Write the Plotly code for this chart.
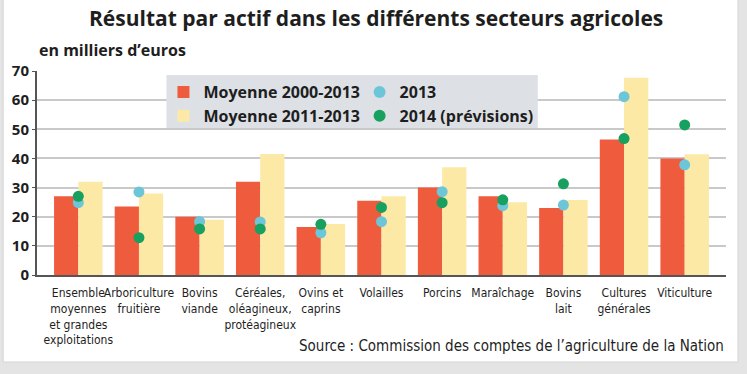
import plotly.graph_objects as go

categories = [
    "Ensemble<br>moyennes<br>et grandes<br>exploitations",
    "Arboriculture<br>fruitière",
    "Bovins<br>viande",
    "Céréales,<br>oléagineux,<br>protéagineux",
    "Ovins et<br>caprins",
    "Volailles",
    "Porcins",
    "Maraîchage",
    "Bovins<br>lait",
    "Cultures<br>générales",
    "Viticulture",
]
moy_2000_2013 = [27, 23.5, 20, 32, 16.5, 25.5, 30, 27, 23, 46.5, 40]
moy_2011_2013 = [32, 28, 19, 41.5, 17.5, 27, 37, 25, 25.7, 67.7, 41.4]
val_2013 = [24.8, 28.5, 18.3, 18.2, 14.5, 18.3, 28.6, 23.8, 24, 61.2, 37.8]
val_2014 = [27, 12.8, 15.8, 15.8, 17.4, 23.2, 24.8, 25.8, 31.3, 46.8, 51.5]
y_ticks = [0, 10, 20, 30, 40, 50, 60, 70]

RED = "#ef5b3d"
YELLOW = "#fce9a6"
BLUE = "#6cc6d8"
GREEN = "#17a060"
TXT = "#1e1e1e"
COND = "DejaVu Sans Condensed, DejaVu Sans, sans-serif"
SANS = "Open Sans, Liberation Sans, sans-serif"

fig = go.Figure()
fig.add_trace(go.Bar(x=categories, y=moy_2000_2013, name="Moyenne 2000-2013",
                     marker=dict(color=RED, line=dict(width=0)), legend="legend"))
fig.add_trace(go.Bar(x=categories, y=moy_2011_2013, name="Moyenne 2011-2013",
                     marker=dict(color=YELLOW, line=dict(width=0)), legend="legend"))
fig.add_trace(go.Scatter(x=categories, y=val_2013, name="2013", mode="markers",
                         marker=dict(color=BLUE, size=11), legend="legend2"))
fig.add_trace(go.Scatter(x=categories, y=val_2014, name="2014 (prévisions)", mode="markers",
                         marker=dict(color=GREEN, size=11), legend="legend2"))

# plot area in pixels: x 34..726, y 71..275
def px_x(p):
    return (p - 34) / 692.0

def px_y(p):
    return (275 - p) / 204.0

shapes = [
    # card
    dict(type="rect", xref="paper", yref="paper", x0=px_x(0), x1=px_x(738),
         y0=px_y(362), y1=px_y(-2), fillcolor="white", line=dict(color="#d4d4d4", width=1),
         layer="below"),
    # legend background
    dict(type="rect", xref="paper", yref="paper", x0=px_x(164), x1=px_x(537),
         y0=px_y(128), y1=px_y(75), fillcolor="#dde1e6", line=dict(width=0),
         layer="above"),
]

legend_font = dict(family=SANS, size=16, color=TXT, weight="bold")

fig.update_layout(
    width=747, height=374,
    margin=dict(l=34, r=21, t=71, b=99),
    paper_bgcolor="#e4e4e4",
    plot_bgcolor="rgba(0,0,0,0)",
    barmode="group", bargap=0.2, bargroupgap=0,
    showlegend=True,
    legend=dict(x=px_x(161), y=px_y(75), xanchor="left", yanchor="top",
                bgcolor="rgba(0,0,0,0)", font=legend_font, tracegroupgap=0,
                itemwidth=30, orientation="v"),
    legend2=dict(x=px_x(358), y=px_y(75), xanchor="left", yanchor="top",
                 bgcolor="rgba(0,0,0,0)", font=legend_font, tracegroupgap=0,
                 itemsizing="constant", itemwidth=30, orientation="v"),
    shapes=shapes,
    annotations=[
        dict(text="<b>Résultat par actif dans les différents secteurs agricoles</b>",
             xref="paper", yref="paper", x=px_x(374), y=px_y(18), xanchor="center",
             yanchor="middle", showarrow=False,
             font=dict(family=SANS, size=21, color=TXT)),
        dict(text="<b>en milliers d’euros</b>", xref="paper", yref="paper",
             x=px_x(34), y=px_y(50), xanchor="left", yanchor="middle", showarrow=False,
             font=dict(family=SANS, size=16, color=TXT)),
        dict(text="Source : Commission des comptes de l’agriculture de la Nation",
             xref="paper", yref="paper", x=px_x(726), y=px_y(346), xanchor="right",
             yanchor="middle", showarrow=False,
             font=dict(family=COND, size=15, color=TXT)),
    ],
    xaxis=dict(showgrid=False, showline=True, linecolor="#555555", linewidth=2,
               tickfont=dict(family=COND, size=12, color=TXT), ticks="",
               ticklabelstandoff=6, tickangle=0, fixedrange=True),
    yaxis=dict(range=[0, 70], tickvals=y_ticks, showgrid=True, gridcolor="#c9c9c9",
               gridwidth=2, showline=True, linecolor="#555555", linewidth=2,
               ticks="outside", ticklen=3, tickcolor="#555555", zeroline=False,
               tickfont=dict(family=SANS, size=15, color=TXT, weight="bold"),
               fixedrange=True),
)

fig.write_html("out.html", config={"displayModeBar": False},
               post_script="document.body.style.margin='0';")
